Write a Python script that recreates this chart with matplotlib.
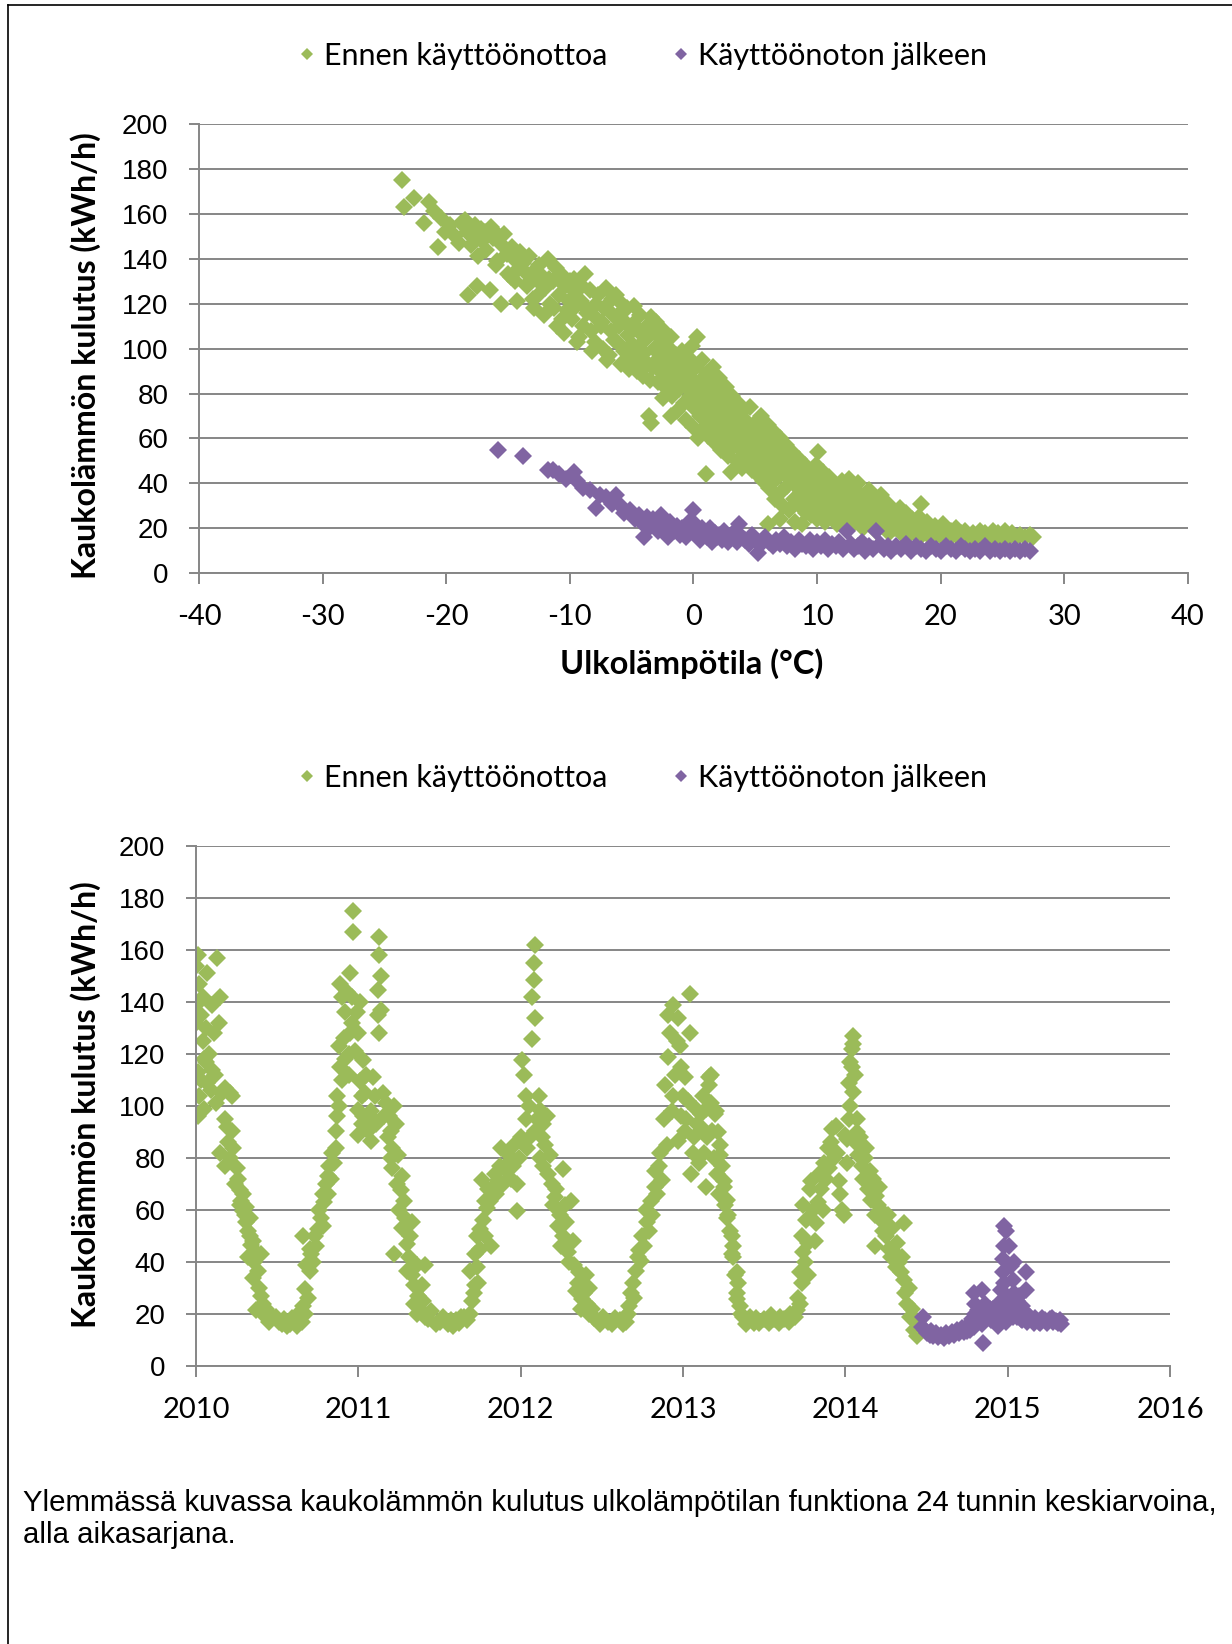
import matplotlib
matplotlib.use("Agg")
import matplotlib.pyplot as plt
from matplotlib.lines import Line2D

GREEN = "#9BBB59"
PURPLE = "#8064A2"
GRID = "#868686"
CAL = "Lato"
ARIAL = "Liberation Sans"

labels = ["Ennen käyttöönottoa", "Käyttöönoton jälkeen"]
ylabel = "Kaukolämmön kulutus (kWh/h)"
xlabel_top = "Ulkolämpötila (°C)"
caption = ("Ylemmässä kuvassa kaukolämmön kulutus ulkolämpötilan funktiona 24 tunnin keskiarvoina,\n"
           "alla aikasarjana.")
temp_ticks = [-40, -30, -20, -10, 0, 10, 20, 30, 40]
year_ticks = [2010, 2011, 2012, 2013, 2014, 2015, 2016]

# upper chart: (outdoor temp degC, kWh/h), daily means
scatter_before = [
    (-23.6, 175), (-23.4, 163), (-22.6, 167), (-21.8, 156), (-21.4, 165),
    (-21.0, 161), (-20.7, 145), (-20.4, 158), (-20.1, 152), (-19.7, 155),
    (-19.3, 150), (-19.0, 147), (-18.8, 156), (-18.5, 157), (-18.3, 152),
    (-18.2, 124), (-18.0, 146), (-17.8, 150), (-17.7, 155), (-17.5, 128),
    (-17.4, 141), (-17.2, 153), (-17.1, 148), (-16.9, 152), (-16.8, 144),
    (-16.6, 151), (-16.5, 126), (-16.4, 154), (-16.2, 149), (-16.0, 137),
    (-15.9, 139), (-15.7, 150), (-15.6, 120), (-15.5, 146), (-15.3, 151),
    (-15.1, 142), (-15.0, 133), (-14.8, 132), (-14.7, 145), (-14.5, 140),
    (-14.4, 130), (-14.3, 121), (-14.1, 136), (-14.0, 143), (-13.8, 138),
    (-13.6, 134), (-13.5, 128), (-13.3, 141), (-13.2, 130), (-13.0, 122),
    (-12.9, 118), (-12.8, 135), (-12.6, 124), (-12.5, 137), (-12.4, 129),
    (-12.2, 132), (-12.1, 115), (-12.0, 127), (-11.8, 140), (-11.7, 131),
    (-11.6, 120), (-11.4, 130), (-11.3, 118), (-11.1, 136), (-11.0, 110),
    (-10.9, 124), (-10.7, 133), (-10.6, 113), (-10.5, 107), (-10.4, 128),
    (-10.2, 117), (-10.1, 121), (-10.0, 130), (-9.8, 113), (-9.7, 131),
    (-9.6, 125), (-9.5, 119), (-9.4, 103), (-9.3, 105), (-9.1, 121),
    (-9.0, 128), (-8.9, 110), (-8.8, 133), (-8.6, 116), (-8.5, 117),
    (-8.4, 126), (-8.3, 108), (-8.2, 99), (-8.0, 103), (-7.9, 120),
    (-7.8, 113), (-7.7, 124), (-7.5, 110), (-7.4, 112), (-7.3, 100),
    (-7.2, 118), (-7.1, 127), (-7.0, 95), (-6.8, 97), (-6.7, 108),
    (-6.6, 122), (-6.5, 115), (-6.4, 104), (-6.3, 124), (-6.2, 103),
    (-6.1, 115), (-6.0, 110), (-5.9, 93), (-5.8, 120), (-5.6, 99),
    (-5.5, 112), (-5.4, 118), (-5.3, 106), (-5.2, 91), (-5.1, 94),
    (-5.0, 102), (-4.9, 111), (-4.8, 119), (-4.7, 98), (-4.6, 90),
    (-4.5, 108), (-4.4, 100), (-4.3, 115), (-4.2, 95), (-4.1, 88),
    (-4.0, 98), (-3.9, 104), (-3.8, 110), (-3.7, 93), (-3.6, 70),
    (-3.5, 86), (-3.4, 114), (-3.4, 67), (-3.3, 92), (-3.2, 100),
    (-3.1, 107), (-3.0, 112), (-2.9, 85), (-2.8, 96), (-2.7, 90),
    (-2.6, 98), (-2.5, 103), (-2.5, 78), (-2.4, 108), (-2.3, 83),
    (-2.2, 94), (-2.1, 88), (-2.0, 95), (-1.9, 100), (-1.8, 70),
    (-1.8, 105), (-1.7, 79), (-1.6, 92), (-1.5, 86), (-1.4, 97),
    (-1.3, 72), (-1.2, 82), (-1.1, 89), (-1.0, 94), (-0.9, 99),
    (-0.8, 76), (-0.7, 84), (-0.6, 68), (-0.5, 91), (-0.4, 96),
    (-0.3, 79), (-0.2, 87), (-0.1, 101), (0.0, 65), (0.0, 74),
    (0.1, 83), (0.2, 92), (0.3, 105), (0.4, 60), (0.5, 70),
    (0.5, 78), (0.6, 86), (0.7, 95), (0.8, 64), (0.9, 73),
    (1.0, 44), (1.0, 81), (1.1, 89), (1.2, 61), (1.3, 68),
    (1.4, 76), (1.5, 84), (1.6, 92), (1.7, 58), (1.8, 65),
    (1.9, 72), (2.0, 80), (2.1, 87), (2.2, 55), (2.3, 62),
    (2.4, 69), (2.5, 76), (2.6, 83), (2.7, 59), (2.8, 52),
    (2.9, 66), (3.0, 45), (3.0, 73), (3.1, 79), (3.2, 56),
    (3.3, 63), (3.4, 70), (3.5, 50), (3.6, 76), (3.7, 59),
    (3.8, 66), (3.9, 47), (4.0, 54), (4.0, 72), (4.1, 61),
    (4.2, 68), (4.3, 50), (4.4, 57), (4.5, 64), (4.6, 74),
    (4.7, 46), (4.8, 53), (4.9, 60), (5.0, 67), (5.1, 44),
    (5.2, 50), (5.3, 57), (5.4, 63), (5.5, 70), (5.6, 41),
    (5.7, 48), (5.8, 54), (5.9, 60), (6.0, 66), (6.0, 22),
    (6.1, 38), (6.2, 45), (6.3, 51), (6.4, 57), (6.5, 63),
    (6.6, 33), (6.7, 42), (6.8, 48), (6.9, 54), (7.0, 60),
    (7.0, 24), (7.1, 36), (7.2, 30), (7.3, 45), (7.4, 51),
    (7.5, 57), (7.6, 39), (7.7, 28), (7.8, 42), (7.9, 48),
    (8.0, 54), (8.1, 33), (8.2, 23), (8.3, 39), (8.4, 45),
    (8.5, 51), (8.6, 30), (8.7, 36), (8.8, 22), (8.9, 42),
    (9.0, 48), (9.1, 27), (9.2, 33), (9.3, 39), (9.4, 45),
    (9.5, 26), (9.6, 30), (9.7, 36), (9.8, 42), (9.9, 48),
    (10.0, 24), (10.1, 54), (10.2, 28), (10.3, 33), (10.4, 39),
    (10.5, 45), (10.6, 23), (10.7, 41), (10.8, 30), (10.9, 36),
    (11.0, 43), (11.2, 26), (11.3, 33), (11.4, 39), (11.6, 22),
    (11.7, 29), (11.8, 36), (12.0, 41), (12.1, 25), (12.2, 31),
    (12.4, 37), (12.5, 21), (12.6, 42), (12.7, 27), (12.9, 33),
    (13.0, 38), (13.1, 23), (13.3, 40), (13.4, 29), (13.5, 35),
    (13.7, 20), (13.8, 25), (14.0, 31), (14.2, 37), (14.3, 22),
    (14.5, 27), (14.6, 33), (14.8, 19), (14.9, 24), (15.0, 30),
    (15.2, 35), (15.3, 21), (15.5, 26), (15.7, 31), (15.8, 18),
    (16.0, 23), (16.1, 28), (16.3, 20), (16.5, 25), (16.7, 29),
    (16.8, 18), (17.0, 22), (17.2, 27), (17.4, 17), (17.5, 20),
    (17.7, 24), (17.9, 18), (18.0, 22), (18.2, 25), (18.4, 31),
    (18.5, 17), (18.7, 20), (18.9, 23), (19.1, 16), (19.3, 19),
    (19.5, 21), (19.7, 17), (19.9, 20), (20.1, 16), (20.2, 22),
    (20.4, 18), (20.6, 16), (20.8, 19), (21.0, 17), (21.2, 20),
    (21.4, 16), (21.6, 18), (21.8, 15), (22.0, 19), (22.2, 17),
    (22.4, 16), (22.6, 18), (22.8, 15), (23.0, 17), (23.2, 19),
    (23.4, 16), (23.6, 18), (23.8, 15), (24.0, 17), (24.2, 19),
    (24.4, 16), (24.6, 18), (24.8, 15), (25.0, 17), (25.2, 19),
    (25.5, 16), (25.8, 18), (26.1, 16), (26.4, 17), (26.8, 16),
    (27.2, 17), (27.5, 16),
]

scatter_after = [
    (-15.8, 55), (-13.8, 52), (-11.8, 46), (-11.4, 46), (-10.9, 44),
    (-10.3, 42), (-9.7, 45), (-9.4, 41), (-8.9, 38), (-8.4, 37),
    (-7.9, 29), (-7.6, 35), (-7.1, 34), (-6.6, 31), (-6.3, 35),
    (-5.9, 30), (-5.6, 27), (-5.1, 28), (-4.7, 24), (-4.4, 26),
    (-4.1, 22), (-4.0, 16), (-3.8, 25), (-3.6, 20), (-3.3, 24),
    (-3.1, 22), (-2.9, 19), (-2.6, 26), (-2.5, 21), (-2.3, 18),
    (-2.1, 16), (-1.9, 23), (-1.6, 19), (-1.3, 21), (-1.1, 17),
    (-0.9, 20), (-0.6, 16), (-0.4, 23), (-0.2, 19), (0.0, 28),
    (0.1, 22), (0.3, 17), (0.5, 15), (0.7, 20), (0.9, 18),
    (1.1, 16), (1.3, 20), (1.5, 14), (1.7, 18), (1.9, 16),
    (2.1, 17), (2.3, 15), (2.5, 19), (2.8, 14), (3.0, 16),
    (3.2, 18), (3.5, 14), (3.7, 22), (3.9, 16), (4.2, 15),
    (4.5, 13), (4.7, 17), (5.0, 15), (5.2, 9), (5.5, 13),
    (5.8, 16), (6.1, 14), (6.4, 12), (6.7, 15), (7.0, 13),
    (7.3, 16), (7.6, 12), (7.9, 14), (8.2, 11), (8.5, 15),
    (8.8, 13), (9.1, 12), (9.4, 15), (9.7, 11), (10.0, 14),
    (10.3, 12), (10.6, 15), (10.9, 11), (11.2, 13), (11.5, 12),
    (11.8, 14), (12.1, 11), (12.4, 19), (12.7, 13), (13.0, 11),
    (13.3, 12), (13.6, 14), (13.9, 10), (14.2, 12), (14.8, 19),
    (14.5, 11), (15.1, 13), (15.4, 11), (15.7, 12), (16.0, 10),
    (16.4, 12), (16.8, 11), (17.2, 13), (17.6, 10), (18.0, 12),
    (18.4, 11), (18.8, 10), (19.2, 12), (19.6, 11), (20.0, 10),
    (20.4, 12), (20.8, 11), (21.2, 10), (21.6, 12), (22.0, 11),
    (22.4, 10), (22.8, 11), (23.2, 10), (23.6, 12), (24.0, 10),
    (24.4, 11), (24.8, 10), (25.2, 11), (25.6, 10), (26.0, 11),
    (26.4, 10), (26.8, 11), (27.2, 10),
]

# lower chart: (decimal year, kWh/h)
series_before = [
    (2010.00, 154), (2010.00, 139), (2010.00, 132), (2010.01, 158), (2010.01, 113),
    (2010.01, 96), (2010.02, 147), (2010.02, 104), (2010.03, 135), (2010.03, 110),
    (2010.04, 125), (2010.04, 142), (2010.05, 99), (2010.05, 118), (2010.06, 130),
    (2010.06, 117), (2010.07, 151), (2010.07, 109), (2010.08, 120), (2010.09, 106),
    (2010.10, 139), (2010.10, 114), (2010.11, 128), (2010.12, 112), (2010.125, 101),
    (2010.13, 157), (2010.14, 132), (2010.15, 142), (2010.15, 82), (2010.16, 105),
    (2010.18, 107), (2010.18, 95), (2010.18, 77), (2010.19, 92), (2010.20, 86),
    (2010.21, 105), (2010.21, 80), (2010.22, 104), (2010.22, 90.5), (2010.23, 84),
    (2010.24, 70), (2010.25, 76), (2010.26, 72), (2010.27, 67.6), (2010.27, 62),
    (2010.28, 63.5), (2010.29, 59.5), (2010.29, 66), (2010.30, 58), (2010.31, 55.4),
    (2010.31, 61), (2010.32, 42), (2010.32, 52), (2010.33, 50), (2010.33, 57),
    (2010.34, 46.6), (2010.35, 33.8), (2010.35, 48), (2010.36, 40), (2010.37, 21.6),
    (2010.37, 44), (2010.38, 36.5), (2010.39, 30), (2010.40, 43), (2010.40, 27),
    (2010.41, 24), (2010.42, 19.6), (2010.43, 22), (2010.44, 21), (2010.45, 17),
    (2010.47, 19), (2010.49, 19), (2010.51, 17), (2010.53, 16), (2010.54, 18),
    (2010.56, 15.5), (2010.58, 16), (2010.59, 18.5), (2010.61, 17), (2010.62, 15.5),
    (2010.63, 20), (2010.64, 19), (2010.65, 17), (2010.66, 23), (2010.66, 50),
    (2010.67, 29.7), (2010.67, 20), (2010.68, 39), (2010.69, 26), (2010.70, 36.5),
    (2010.70, 45), (2010.71, 43), (2010.72, 40), (2010.73, 50), (2010.74, 46),
    (2010.75, 52.7), (2010.76, 60), (2010.77, 56.8), (2010.78, 54), (2010.785, 66),
    (2010.79, 63), (2010.80, 70), (2010.81, 73), (2010.81, 66), (2010.82, 77),
    (2010.83, 72), (2010.84, 82), (2010.85, 78), (2010.86, 90.5), (2010.86, 84),
    (2010.87, 96), (2010.87, 104), (2010.88, 123), (2010.88, 100), (2010.89, 115),
    (2010.89, 147), (2010.90, 142), (2010.90, 110), (2010.91, 126), (2010.915, 136),
    (2010.92, 118), (2010.93, 144), (2010.94, 120), (2010.94, 112), (2010.95, 151),
    (2010.95, 128), (2010.96, 142), (2010.96, 132), (2010.97, 175), (2010.97, 167),
    (2010.98, 121), (2010.99, 136),
    (2011.00, 128), (2011.00, 98.6), (2011.00, 89), (2011.01, 109.5), (2011.01, 140),
    (2011.02, 104), (2011.02, 93), (2011.03, 117.6), (2011.03, 96), (2011.04, 105),
    (2011.05, 112), (2011.06, 90.5), (2011.07, 96), (2011.08, 86.5), (2011.08, 98),
    (2011.09, 111), (2011.10, 104), (2011.11, 93), (2011.12, 135), (2011.12, 144.6),
    (2011.13, 128), (2011.13, 158), (2011.13, 165), (2011.14, 150), (2011.14, 137),
    (2011.15, 105), (2011.16, 96), (2011.17, 101), (2011.18, 88), (2011.19, 96),
    (2011.20, 90.5), (2011.20, 80), (2011.21, 84), (2011.21, 76), (2011.22, 100),
    (2011.22, 43), (2011.23, 93), (2011.24, 70), (2011.245, 81), (2011.25, 60),
    (2011.26, 67.6), (2011.27, 73), (2011.27, 53), (2011.28, 63.5), (2011.29, 56.8),
    (2011.30, 36.5), (2011.30, 47), (2011.31, 42), (2011.32, 50), (2011.33, 55.4),
    (2011.33, 35), (2011.34, 31), (2011.34, 24), (2011.36, 39), (2011.36, 20),
    (2011.37, 27), (2011.38, 22), (2011.39, 31), (2011.40, 25), (2011.41, 39),
    (2011.41, 19), (2011.43, 18), (2011.45, 21), (2011.48, 16), (2011.50, 17),
    (2011.52, 19), (2011.55, 16), (2011.57, 17.5), (2011.58, 15.5), (2011.60, 17.6),
    (2011.62, 16.5), (2011.63, 19), (2011.65, 19), (2011.67, 17.5), (2011.69, 20),
    (2011.69, 36.5), (2011.70, 25), (2011.71, 28), (2011.72, 31), (2011.72, 43),
    (2011.73, 50), (2011.73, 38), (2011.74, 32), (2011.75, 52.7), (2011.75, 45),
    (2011.76, 71.6), (2011.77, 56), (2011.78, 63.5), (2011.78, 50), (2011.79, 60.8),
    (2011.80, 68), (2011.81, 63.5), (2011.82, 46), (2011.83, 69), (2011.84, 74),
    (2011.85, 66), (2011.86, 71.6), (2011.87, 77), (2011.88, 84), (2011.89, 70),
    (2011.905, 75.7), (2011.92, 78), (2011.93, 81), (2011.94, 72), (2011.95, 77),
    (2011.96, 85), (2011.98, 59.5), (2011.98, 70), (2011.99, 80),
    (2012.00, 88), (2012.01, 117.6), (2012.02, 112), (2012.03, 95), (2012.035, 104),
    (2012.04, 84), (2012.05, 100), (2012.06, 88), (2012.07, 125.7), (2012.07, 142),
    (2012.08, 148.6), (2012.08, 155), (2012.09, 162), (2012.09, 134), (2012.09, 90.5),
    (2012.10, 95), (2012.11, 104), (2012.12, 98.6), (2012.12, 80), (2012.13, 88),
    (2012.14, 93), (2012.14, 77), (2012.15, 85), (2012.165, 96), (2012.17, 74),
    (2012.18, 81), (2012.19, 70), (2012.20, 62), (2012.21, 65), (2012.22, 68),
    (2012.23, 54), (2012.24, 58), (2012.25, 46), (2012.26, 75.7), (2012.26, 50),
    (2012.27, 62), (2012.28, 55.4), (2012.29, 44), (2012.30, 40), (2012.31, 63.5),
    (2012.32, 48), (2012.33, 39), (2012.34, 29), (2012.35, 32), (2012.36, 36),
    (2012.37, 22), (2012.38, 25.7), (2012.39, 28), (2012.40, 35), (2012.41, 24),
    (2012.42, 30), (2012.42, 20), (2012.44, 22), (2012.45, 18.5), (2012.47, 17.6),
    (2012.49, 16), (2012.51, 19), (2012.54, 17), (2012.56, 16), (2012.58, 18.5),
    (2012.61, 17.6), (2012.63, 16), (2012.64, 19), (2012.65, 17), (2012.66, 20),
    (2012.67, 23), (2012.68, 28), (2012.69, 32), (2012.70, 26), (2012.71, 36.5),
    (2012.72, 42), (2012.73, 44.6), (2012.74, 40.5), (2012.75, 50), (2012.76, 46),
    (2012.77, 60), (2012.78, 55.4), (2012.79, 52), (2012.80, 63.5), (2012.81, 58),
    (2012.825, 69), (2012.83, 75), (2012.84, 66), (2012.85, 77), (2012.86, 82),
    (2012.87, 71.6), (2012.88, 95), (2012.89, 108), (2012.90, 85), (2012.91, 119),
    (2012.91, 135), (2012.92, 128), (2012.93, 98), (2012.94, 139), (2012.94, 104),
    (2012.95, 112), (2012.96, 125), (2012.97, 134), (2012.97, 86.5), (2012.98, 123),
    (2012.99, 115), (2012.99, 96),
    (2013.00, 104), (2013.01, 111), (2013.01, 90.5), (2013.02, 95), (2013.03, 102),
    (2013.04, 143), (2013.04, 128), (2013.05, 74), (2013.06, 82), (2013.07, 88),
    (2013.08, 99), (2013.085, 93), (2013.10, 78), (2013.11, 97), (2013.12, 91),
    (2013.12, 104), (2013.13, 82), (2013.14, 69), (2013.14, 99), (2013.15, 88),
    (2013.16, 111), (2013.163, 108), (2013.17, 101), (2013.174, 112), (2013.18, 90.5),
    (2013.19, 80), (2013.20, 97), (2013.205, 98), (2013.21, 74), (2013.215, 90),
    (2013.22, 66), (2013.226, 81), (2013.23, 85), (2013.24, 77), (2013.25, 69),
    (2013.25, 71), (2013.26, 62), (2013.27, 56.8), (2013.27, 64), (2013.28, 58),
    (2013.29, 52), (2013.30, 43), (2013.30, 50), (2013.31, 42), (2013.31, 46),
    (2013.32, 35), (2013.33, 25.7), (2013.33, 36), (2013.33, 28), (2013.34, 32),
    (2013.35, 23), (2013.36, 20), (2013.37, 19), (2013.39, 16), (2013.41, 19),
    (2013.435, 16.5), (2013.45, 18.5), (2013.47, 16.5), (2013.50, 18), (2013.53, 16.5),
    (2013.54, 19.5), (2013.56, 18), (2013.59, 16.5), (2013.60, 19), (2013.62, 18),
    (2013.65, 17), (2013.66, 20), (2013.69, 19), (2013.70, 21.5), (2013.71, 26),
    (2013.72, 24), (2013.72, 36), (2013.73, 32), (2013.73, 50), (2013.74, 62),
    (2013.74, 44), (2013.75, 40), (2013.76, 56), (2013.77, 47.5), (2013.77, 35),
    (2013.78, 68), (2013.79, 71), (2013.80, 60), (2013.81, 48), (2013.82, 55),
    (2013.83, 63), (2013.84, 74), (2013.85, 68), (2013.86, 60), (2013.87, 78),
    (2013.88, 72), (2013.895, 84), (2013.90, 76), (2013.91, 86), (2013.92, 91),
    (2013.93, 80), (2013.94, 92.5), (2013.95, 82), (2013.96, 71), (2013.97, 66),
    (2013.98, 60), (2013.99, 58),
    (2014.00, 89), (2014.01, 87.5), (2014.01, 78), (2014.02, 109), (2014.02, 95),
    (2014.03, 117), (2014.03, 100), (2014.04, 122), (2014.04, 115), (2014.045, 124),
    (2014.05, 127), (2014.05, 105.5), (2014.06, 86), (2014.06, 112), (2014.07, 95),
    (2014.07, 90), (2014.08, 81), (2014.09, 88), (2014.10, 77), (2014.11, 72),
    (2014.12, 80), (2014.13, 84), (2014.14, 68), (2014.15, 75), (2014.16, 64),
    (2014.17, 72), (2014.18, 46), (2014.18, 58), (2014.19, 65.5), (2014.20, 62),
    (2014.21, 69), (2014.22, 60), (2014.23, 52), (2014.24, 55), (2014.25, 50),
    (2014.26, 58), (2014.27, 45), (2014.28, 42), (2014.29, 53), (2014.30, 44),
    (2014.31, 38), (2014.32, 47.5), (2014.33, 40), (2014.34, 36), (2014.35, 42),
    (2014.36, 55), (2014.36, 33), (2014.37, 28), (2014.38, 24), (2014.39, 30),
    (2014.40, 19), (2014.41, 22), (2014.42, 14), (2014.43, 18), (2014.44, 11.4),
    (2014.45, 13),
]

series_after = [
    (2014.47, 15), (2014.48, 19), (2014.49, 14), (2014.50, 12.6), (2014.52, 12),
    (2014.53, 13.5), (2014.54, 11.4), (2014.56, 12.5), (2014.57, 11), (2014.59, 12),
    (2014.61, 10.7), (2014.62, 12.5), (2014.64, 11.5), (2014.66, 13), (2014.67, 12),
    (2014.69, 14), (2014.70, 12.5), (2014.72, 14.5), (2014.73, 13), (2014.75, 13.5),
    (2014.76, 16), (2014.77, 14), (2014.78, 18), (2014.79, 15), (2014.80, 20),
    (2014.81, 16.5), (2014.79, 28), (2014.80, 24), (2014.84, 29.4), (2014.82, 21.7),
    (2014.83, 19), (2014.84, 16), (2014.86, 24), (2014.86, 18), (2014.85, 8.8),
    (2014.87, 21), (2014.88, 19), (2014.89, 22), (2014.90, 17.8), (2014.91, 22),
    (2014.92, 17.8), (2014.93, 21.7), (2014.94, 24), (2014.94, 15.2), (2014.95, 19),
    (2014.96, 29.4), (2014.96, 22), (2014.97, 36), (2014.97, 41), (2014.98, 54),
    (2014.99, 52), (2014.98, 46), (2014.98, 32), (2014.99, 17), (2015.00, 25.5),
    (2015.01, 46), (2015.00, 20), (2015.02, 38.5), (2015.02, 22), (2015.03, 33),
    (2015.03, 19), (2015.04, 40), (2015.04, 28), (2015.05, 21.7), (2015.06, 25),
    (2015.06, 19), (2015.07, 27), (2015.08, 18), (2015.09, 23), (2015.09, 17.5),
    (2015.11, 36), (2015.11, 29.4), (2015.11, 20.4), (2015.12, 17), (2015.13, 18.5),
    (2015.14, 19), (2015.15, 17.5), (2015.16, 16.5), (2015.17, 18.5), (2015.19, 17),
    (2015.20, 16.5), (2015.21, 18.5), (2015.23, 17.5), (2015.24, 16.5), (2015.26, 18),
    (2015.27, 18.5), (2015.28, 17), (2015.30, 17.2), (2015.31, 16.5), (2015.32, 17.5),
    (2015.33, 16),
]


def style_axes(ax):
    ax.set_ylim(0, 200)
    ax.set_yticks(range(0, 201, 20))
    ax.grid(axis="y", color=GRID, lw=1.4)
    ax.grid(axis="x", visible=False)
    ax.set_axisbelow(True)
    for s in ("top", "right"):
        ax.spines[s].set_visible(False)
    for s in ("left", "bottom"):
        ax.spines[s].set_color(GRID)
        ax.spines[s].set_linewidth(1.4)
    ax.tick_params(axis="y", length=7, width=1.4, color=GRID, pad=15, labelsize=20)
    ax.tick_params(axis="x", length=8, width=1.4, color=GRID, pad=14, labelsize=21)
    for t in ax.get_yticklabels():
        t.set_fontfamily(ARIAL)


def add_legend(y):
    handles = [Line2D([], [], ls="none", marker="D", ms=6, color=GREEN, mew=0),
               Line2D([], [], ls="none", marker="D", ms=6, color=PURPLE, mew=0)]
    fig.legend(handles, labels, loc="center", bbox_to_anchor=(0.519, y), ncol=2,
               frameon=False, fontsize=22, handletextpad=0.05, columnspacing=1.9,
               handlelength=1.0)


plt.rcParams["font.family"] = [CAL, "DejaVu Sans"]
plt.rcParams["axes.unicode_minus"] = False
fig = plt.figure(figsize=(12.32, 16.44), dpi=100)

MS = 9

# --- upper chart
ax1 = fig.add_axes([0.1615, 0.6512, 0.8028, 0.2736])
tb, qb = zip(*scatter_before)
ta, qa = zip(*scatter_after)
ax1.plot(tb, qb, ls="none", marker="D", ms=MS, color=GREEN, mew=0)
ax1.plot(ta, qa, ls="none", marker="D", ms=MS, color=PURPLE, mew=0)
ax1.set_xlim(-40, 40)
ax1.set_xticks(temp_ticks)
style_axes(ax1)
add_legend(1 - 56 / 1644)
fig.text(86 / 1232, 1 - 356 / 1644, ylabel, rotation=90, ha="center", va="center",
         fontsize=23, fontweight="bold")
fig.text(692 / 1232, 1 - 664 / 1644, xlabel_top, ha="center", va="center",
         fontsize=23.5, fontweight="bold")

# --- lower chart
ax2 = fig.add_axes([0.1591, 0.1691, 0.7906, 0.3163])
yb, vb = zip(*series_before)
ya, va = zip(*series_after)
ax2.plot(yb, vb, ls="none", marker="D", ms=MS, color=GREEN, mew=0)
ax2.plot(ya, va, ls="none", marker="D", ms=MS, color=PURPLE, mew=0)
ax2.set_xlim(2010, 2016)
ax2.set_xticks(year_ticks)
ax2.set_xticklabels([str(y) for y in year_ticks])
style_axes(ax2)
add_legend(1 - 778 / 1644)
fig.text(86 / 1232, 1 - 1105 / 1644, ylabel, rotation=90, ha="center", va="center",
         fontsize=23, fontweight="bold")

# caption
fig.text(23 / 1232, 1 - 1519 / 1644, caption, ha="left", va="center", fontsize=21.2,
         family=ARIAL, linespacing=1.2)

# page border (left and top)
fig.add_artist(Line2D([8 / 1232, 8 / 1232], [0, 1 - 5 / 1644], transform=fig.transFigure,
                      color="black", lw=1.2))
fig.add_artist(Line2D([8 / 1232, 1], [1 - 5 / 1644, 1 - 5 / 1644], transform=fig.transFigure,
                      color="black", lw=1.2))

fig.savefig("out.png", dpi=100)
